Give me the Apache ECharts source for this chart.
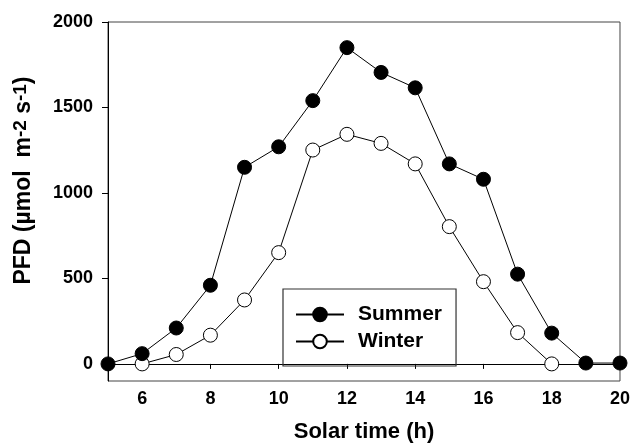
<!DOCTYPE html>
<html>
<head>
<meta charset="utf-8">
<script src="https://cdn.jsdelivr.net/npm/echarts@6/dist/echarts.min.js"></script>
<style>
html,body{margin:0;padding:0;background:#fff;}
#chart{width:633px;height:448px;}
</style>
</head>
<body>
<div id="chart"></div>
<script>
const hours = [5,6,7,8,9,10,11,12,13,14,15,16,17,18,19,20];
const summer = [0,60,210,460,1150,1270,1540,1850,1705,1615,1170,1080,525,180,5,5];
const winterHours = [6,7,8,9,10,11,12,13,14,15,16,17,18];
const winter = [0,55,168,374,651,1251,1343,1290,1170,803,481,183,0];
const xTicks = [6,8,10,12,14,16,18,20];
const yTicks = [0,500,1000,1500,2000];

const chart = echarts.init(document.getElementById('chart'), null, {renderer:'canvas'});
const font = 'Arial, "Liberation Sans", Helvetica, sans-serif';
chart.setOption({
  backgroundColor:'#fff',
  animation:false,
  grid:{left:108,right:13,top:22,bottom:67,show:true,borderColor:'#444',borderWidth:1,backgroundColor:'transparent'},
  legend:{
    orient:'vertical',left:283,top:289,
    padding:[15,14,14,12],
    itemGap:6,itemWidth:48,itemHeight:17,
    borderColor:'#333',borderWidth:1.2,
    textStyle:{fontFamily:font,fontWeight:'bold',fontSize:21,color:'#000',padding:[0,0,0,9]},
    data:['Summer','Winter']
  },
  xAxis:{
    type:'value',min:5,max:20,
    name:'Solar time (h)',nameLocation:'middle',nameGap:40,
    nameTextStyle:{fontFamily:font,fontWeight:'bold',fontSize:22,color:'#000'},
    axisLine:{lineStyle:{color:'#000',width:1}},
    axisTick:{show:true,length:5,customValues:xTicks,lineStyle:{color:'#000'}},
    axisLabel:{customValues:xTicks,margin:9,fontFamily:font,fontWeight:'bold',fontSize:18,color:'#000',formatter:v=>String(v)},
    splitLine:{show:false}
  },
  yAxis:{
    type:'value',min:-100,max:2000,
    name:'{n|PFD (µmol  m}{s|-2}{n| s}{s|-1}{n|)}',nameLocation:'middle',nameGap:72,
    nameTextStyle:{fontFamily:font,fontWeight:'bold',fontSize:23,color:'#000',padding:[0,0,0,42],
      rich:{n:{fontFamily:font,fontWeight:'bold',fontSize:23,color:'#000'},
            s:{fontFamily:font,fontWeight:'bold',fontSize:19,color:'#000',verticalAlign:'top',padding:[0,0,6,0]}}},
    axisLine:{show:true,lineStyle:{color:'#000',width:1}},
    axisTick:{show:true,length:6,customValues:yTicks,lineStyle:{color:'#000'}},
    axisLabel:{customValues:yTicks,margin:15,fontFamily:font,fontWeight:'bold',fontSize:18,color:'#000',formatter:v=>String(v)},
    splitLine:{show:false}
  },
  series:[
    {name:'Summer',type:'line',data:hours.map((h,i)=>[h,summer[i]]),
     symbol:'circle',symbolSize:14,
     lineStyle:{color:'#000',width:1},
     itemStyle:{color:'#000',borderColor:'#000',borderWidth:1},z:3},
    {name:'Winter',type:'line',data:winterHours.map((h,i)=>[h,winter[i]]),
     symbol:'circle',symbolSize:14,
     lineStyle:{color:'#000',width:1},
     itemStyle:{color:'#fff',borderColor:'#000',borderWidth:1},z:2}
  ]
});
</script>
</body>
</html>
